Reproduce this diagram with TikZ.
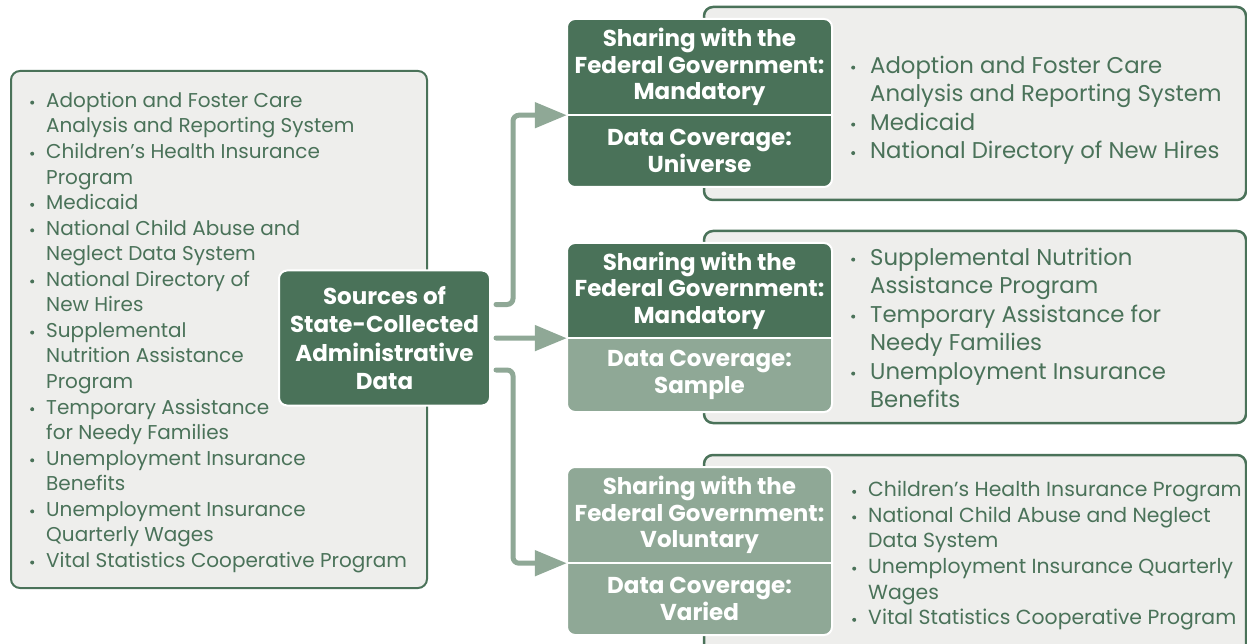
\documentclass[tikz,border=0pt]{standalone}
\usepackage{fontspec}
\setmainfont{Poppins}
\usetikzlibrary{arrows.meta,calc}
\definecolor{dkg}{HTML}{4A7259}
\definecolor{ltg}{HTML}{8FA896}
\definecolor{pale}{HTML}{EEEEEC}
\newcommand{\bul}{\tikz[baseline=0pt]\fill[dkg] (2pt,0.24em) circle (2pt);}
\newcommand{\itA}[1]{\makebox[16pt][l]{\bul}#1}
\newcommand{\ctA}[1]{\hspace*{16pt}#1}
\newcommand{\itB}[1]{\makebox[19pt][l]{\bul}#1}
\newcommand{\ctB}[1]{\hspace*{19pt}#1}
\newcommand{\splitshape}[5]{%
  \begin{scope}\clip (560,#1-6) rectangle (840,#2);
    \fill[#4, rounded corners=8pt] (567,#1) rectangle (832,#3);\end{scope}
  \begin{scope}\clip (560,#2) rectangle (840,#3+6);
    \fill[#5, rounded corners=8pt] (567,#1) rectangle (832,#3);\end{scope}
  \draw[white, line width=2pt, rounded corners=8pt] (567,#1) rectangle (832,#3);}
\begin{document}
\begin{tikzpicture}[x=1pt,y=-1pt,
  panel/.style={draw=dkg, line width=2.5pt, fill=pale, rounded corners=9pt},
  listtxt/.style={anchor=north west, inner sep=0pt, align=left, text=dkg},
  small/.style={font=\fontsize{20}{25.55}\selectfont},
  smallb/.style={font=\fontsize{20.4}{25.6}\selectfont},
  big/.style={font=\fontsize{22.8}{28.5}\selectfont},
  lbl/.style={inner sep=0pt, minimum width=265pt, align=center, text=white,
    font=\bfseries\fontsize{23}{26.5}\selectfont},
  srcbox/.style={fill=dkg, draw=white, line width=2pt, rounded corners=8pt,
    minimum width=211pt, minimum height=135pt, inner sep=0pt, align=center,
    text=white, font=\bfseries\fontsize{23}{28.3}\selectfont},
  conn/.style={draw=ltg, line width=5pt, line cap=round, rounded corners=6pt,
    -{Triangle[length=32pt,width=25pt]}}]
\useasboundingbox (0,0) rectangle (1247,644);
% right panels
\draw[panel] (704,7) rectangle (1246,200);
\draw[panel] (704,231) rectangle (1246,423);
\draw[panel] (704,455) rectangle (1246,660);
% split boxes
\splitshape{19}{115}{187}{dkg}{dkg}
\splitshape{243}{338}{412}{dkg}{ltg}
\splitshape{467}{563}{635}{ltg}{ltg}
% left panel
\draw[panel, line width=2pt] (11,71) rectangle (427,588);
\node[srcbox] (src) at (384.5,338) {Sources of\\State-Collected\\Administrative\\Data};
% labels
\node[lbl, minimum height=96pt] (g1top) at (699.5,67) {Sharing with the\\Federal Government:\\Mandatory};
\node[lbl, minimum height=72pt] (g1bot) at (699.5,151) {Data Coverage:\\Universe};
\node[lbl, minimum height=95pt] (g2top) at (699.5,290.5) {Sharing with the\\Federal Government:\\Mandatory};
\node[lbl, minimum height=74pt] (g2bot) at (699.5,375) {Data Coverage:\\Sample};
\node[lbl, minimum height=96pt] (g3top) at (699.5,515) {Sharing with the\\Federal Government:\\Voluntary};
\node[lbl, minimum height=72pt] (g3bot) at (699.5,599) {Data Coverage:\\Varied};
\foreach \g in {g1top,g2top,g3top}
  \draw[white, line width=2pt] (\g.south west) -- (\g.south east);
% lists
\node[listtxt, small] (srclist) at (30,92) {%
\itA{Adoption and Foster Care}\\\ctA{Analysis and Reporting System}\\
\itA{Children’s Health Insurance}\\\ctA{Program}\\
\itA{Medicaid}\\
\itA{National Child Abuse and}\\\ctA{Neglect Data System}\\
\itA{National Directory of}\\\ctA{New Hires}\\
\itA{Supplemental}\\\ctA{Nutrition Assistance}\\\ctA{Program}\\
\itA{Temporary Assistance}\\\ctA{for Needy Families}\\
\itA{Unemployment Insurance}\\\ctA{Benefits}\\
\itA{Unemployment Insurance}\\\ctA{Quarterly Wages}\\
\itA{Vital Statistics Cooperative Program}};
\node[listtxt, big] (g1list) at (851,55.5) {%
\itB{Adoption and Foster Care}\\\ctB{Analysis and Reporting System}\\
\itB{Medicaid}\\
\itB{National Directory of New Hires}};
\node[listtxt, big] (g2list) at (851,247.5) {%
\itB{Supplemental Nutrition}\\\ctB{Assistance Program}\\
\itB{Temporary Assistance for}\\\ctB{Needy Families}\\
\itB{Unemployment Insurance}\\\ctB{Benefits}};
\node[listtxt, smallb] (g3list) at (852,481) {%
\itA{Children’s Health Insurance Program}\\
\itA{National Child Abuse and Neglect}\\\ctA{Data System}\\
\itA{Unemployment Insurance Quarterly}\\\ctA{Wages}\\
\itA{Vital Statistics Cooperative Program}};
% connectors
\draw[conn] ($(src.east)+(5,-33.5)$) -- ++(17,0) |- (g1top.south west);
\draw[conn] ($(src.east)+(5,0)$) -- (g2top.south west);
\draw[conn] ($(src.east)+(5,32)$) -- ++(17,0) |- (g3top.south west);
\end{tikzpicture}
\end{document}
